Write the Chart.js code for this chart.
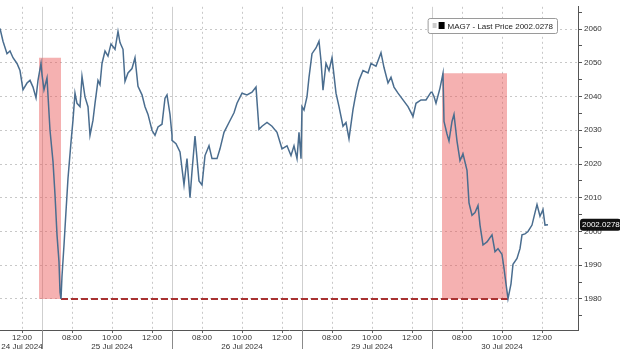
<!DOCTYPE html>
<html lang="en">
<head>
<meta charset="UTF-8">
<title>MAG7 - Last Price</title>
<script src="https://cdn.jsdelivr.net/npm/chart.js"></script>
<style>
    html, body { margin: 0; padding: 0; background: #fff; }
</style>
</head>
<body>
<canvas id="mag7" width="620" height="349"></canvas>
<script>
// trading sessions shown (06:30 - 13:00 each day)
var dayLabels = ['24 Jul 2024', '25 Jul 2024', '26 Jul 2024', '29 Jul 2024', '30 Jul 2024'];

var jul24Times  = ['10:54','11:03','11:15','11:24','11:33','11:45','11:54','12:03','12:15','12:24','12:33','12:42','12:48','12:57'];
var jul24Prices = [2060.2, 2056.4, 2052.7, 2053.5, 2051.5, 2049.8, 2047.7, 2042.0, 2044.0, 2044.8, 2042.8, 2039.6, 2044.8, 2049.8];

var jul25Times  = ['06:30','06:36','06:45','06:54','07:03','07:09','07:15','07:21','07:24','07:27','07:30','07:36','07:42','07:48','07:57','08:03','08:09','08:15','08:24','08:30','08:39','08:48','08:54','09:03','09:09','09:18','09:24','09:30','09:39','09:48','09:57','10:09','10:18','10:24','10:33','10:39','10:48','11:00','11:09','11:18','11:30','11:39','11:48','12:00','12:09','12:18','12:30','12:39','12:45','12:54','13:00'];
var jul25Prices = [2046.5, 2042.0, 2045.5, 2030.0, 2020.7, 2010.9, 1999.0, 1991.0, 1982.0, 1980.0, 1986.8, 1996.0, 2006.0, 2015.8, 2026.5, 2033.0, 2041.0, 2038.0, 2037.0, 2046.0, 2039.9, 2037.0, 2028.5, 2033.0, 2038.0, 2044.8, 2043.5, 2049.8, 2053.5, 2052.0, 2055.6, 2054.0, 2059.3, 2056.0, 2054.0, 2044.5, 2047.0, 2048.3, 2051.5, 2043.0, 2040.5, 2037.0, 2034.7, 2030.0, 2028.5, 2031.0, 2031.8, 2039.5, 2040.5, 2034.7, 2028.5];

var jul26Times  = ['06:30','06:42','06:54','07:06','07:15','07:24','07:30','07:39','07:51','08:00','08:09','08:21','08:30','08:45','08:54','09:06','09:21','09:36','09:45','10:00','10:15','10:30','10:42','10:51','11:00','11:15','11:30','11:45','12:00','12:15','12:27','12:36','12:45','12:51','12:57'];
var jul26Prices = [2027.0, 2026.0, 2023.6, 2013.8, 2021.6, 2010.0, 2017.8, 2028.3, 2015.0, 2013.8, 2022.5, 2025.4, 2021.6, 2021.6, 2024.5, 2029.4, 2032.3, 2035.2, 2038.0, 2041.0, 2040.5, 2041.3, 2042.8, 2030.3, 2031.2, 2032.3, 2031.2, 2029.4, 2024.5, 2025.4, 2022.5, 2025.4, 2021.6, 2029.4, 2021.6];

var jul29Times  = ['06:30','06:36','06:45','06:51','07:00','07:12','07:21','07:27','07:33','07:42','07:51','08:00','08:12','08:21','08:33','08:42','08:51','09:03','09:12','09:21','09:33','09:48','09:57','10:12','10:27','10:36','10:48','10:57','11:06','11:18','11:33','11:48','12:03','12:12','12:27','12:42','12:57'];
var jul29Prices = [2037.0, 2036.0, 2040.0, 2045.7, 2052.7, 2054.4, 2056.4, 2050.6, 2041.9, 2049.8, 2047.7, 2051.5, 2041.0, 2037.0, 2031.2, 2032.3, 2027.5, 2036.1, 2041.0, 2044.8, 2047.7, 2047.0, 2049.8, 2049.0, 2053.0, 2048.6, 2044.0, 2045.7, 2042.8, 2041.0, 2039.0, 2037.0, 2034.1, 2038.0, 2039.0, 2039.0, 2041.3];

var jul30Times  = ['06:30','06:36','06:42','06:54','07:03','07:06','07:15','07:21','07:30','07:36','07:45','07:54','08:03','08:15','08:21','08:30','08:39','08:48','08:54','09:03','09:15','09:30','09:39','09:48','10:00','10:06','10:12','10:18','10:27','10:33','10:45','10:54','11:00','11:09','11:18','11:30','11:39','11:45','11:54','12:03','12:09','12:18'];
var jul30Prices = [2041.3, 2040.0, 2038.0, 2042.5, 2046.9, 2032.6, 2028.9, 2026.8, 2032.6, 2034.7, 2026.8, 2021.0, 2023.0, 2018.1, 2008.5, 2004.8, 2005.6, 2007.7, 2001.9, 1996.0, 1996.9, 1999.0, 1994.0, 1994.9, 1993.2, 1989.1, 1984.5, 1980.1, 1984.5, 1990.3, 1992.0, 1994.9, 1999.0, 1999.3, 2000.0, 2001.9, 2005.6, 2008.0, 2004.5, 2006.5, 2001.9, 2002.03];

var lastPriceText = '2002.0278';

// shaded sell-off windows
var selloffStartDay  = [0, 4];
var selloffStartTime = ['12:51', '07:00'];
var selloffEndDay    = [1, 4];
var selloffEndTime   = ['07:27', '10:15'];
var selloffTop       = [2051.5, 2046.9];

// dashed line joining the two lows
var lowLevel    = 1980;
var lowLineDay  = [1, 4];
var lowLineTime = ['07:27', '10:18'];

// x axis ticks
var tickDay      = [0, 1, 1, 1, 2, 2, 2, 3, 3, 3, 4, 4, 4];
var tickTime     = ['12:00', '08:00', '10:00', '12:00', '08:00', '10:00', '12:00', '08:00', '10:00', '12:00', '08:00', '10:00', '12:00'];
var tickWithDate = [true, false, true, false, false, true, false, false, true, false, false, true, false];

var viewFrom = [0, '10:54'];
var viewTo   = [4, '13:48'];

// minutes of trading time since 24 Jul 06:30
function tx(day, hhmm) {
    var p = hhmm.split(':');
    return day * 390 + (+p[0]) * 60 + (+p[1]) - 390;
}

var dayTimes  = [jul24Times, jul25Times, jul26Times, jul29Times, jul30Times];
var dayPrices = [jul24Prices, jul25Prices, jul26Prices, jul29Prices, jul30Prices];
var priceData = [];
dayTimes.forEach(function (times, d) {
    times.forEach(function (t, i) {
        priceData.push({ x: tx(d, t), y: dayPrices[d][i] });
    });
});

var boxSets = selloffTop.map(function (top, i) {
    return {
        data: [{ x: tx(selloffStartDay[i], selloffStartTime[i]), y: top },
               { x: tx(selloffEndDay[i], selloffEndTime[i]), y: top }],
        borderColor: 'rgba(0,0,0,0)',
        borderWidth: 0,
        backgroundColor: 'rgba(232,82,82,0.45)',
        fill: { value: lowLevel },
        pointRadius: 0
    };
});

var overlay = {
    id: 'overlay',
    beforeDatasetsDraw: function (chart) {
        var ctx = chart.ctx, area = chart.chartArea, xs = chart.scales.x;
        ctx.save();
        ctx.lineWidth = 1;
        for (var d = 1; d < dayLabels.length; d++) {
            var x = Math.round(xs.getPixelForValue(tx(d, '06:30'))) + 0.5;
            ctx.strokeStyle = '#cfcfcf';
            ctx.beginPath(); ctx.moveTo(x, area.top); ctx.lineTo(x, area.bottom); ctx.stroke();
            ctx.strokeStyle = '#8a8a8a';
            ctx.beginPath(); ctx.moveTo(x, area.bottom); ctx.lineTo(x, chart.height); ctx.stroke();
        }
        ctx.restore();
    },
    afterDraw: function (chart) {
        var ctx = chart.ctx, area = chart.chartArea, ys = chart.scales.y;
        ctx.save();
        ctx.font = '8px "Liberation Sans", Arial, sans-serif';
        ctx.textBaseline = 'middle';

        // legend box
        var text = 'MAG7 - Last Price ' + lastPriceText;
        var w = ctx.measureText(text).width;
        var right = area.right - 21, top = 18, h = 15;
        var left = right - w - 24;
        ctx.fillStyle = '#fff';
        ctx.strokeStyle = '#9a9a9a';
        ctx.beginPath(); ctx.roundRect(left + 0.5, top + 0.5, right - left, h, 2); ctx.fill(); ctx.stroke();
        ctx.fillStyle = '#cccccc';
        ctx.fillRect(left + 5, top + 5, 4, 5);
        ctx.fillStyle = '#000';
        ctx.fillRect(left + 11, top + 4, 6, 7);
        ctx.fillStyle = '#222';
        ctx.fillText(text, left + 20, top + h / 2 + 1);

        // last price tag on the axis
        var last = priceData[priceData.length - 1].y;
        var y = ys.getPixelForValue(last);
        ctx.fillStyle = '#111';
        ctx.beginPath(); ctx.roundRect(area.right + 2, y - 6, chart.width - area.right - 1, 12, 3); ctx.fill();
        ctx.fillStyle = '#fff';
        ctx.fillText(lastPriceText, area.right + 4, y + 0.5);
        ctx.restore();
    }
};

Chart.defaults.font.family = '"Liberation Sans", Arial, sans-serif';
Chart.defaults.font.size = 8;
Chart.defaults.color = '#333';

new Chart(document.getElementById('mag7'), {
    type: 'line',
    data: {
        datasets: [{
            label: 'MAG7',
            data: priceData,
            borderColor: '#4a6d8f',
            borderWidth: 1.5,
            pointRadius: 0,
            tension: 0
        }, {
            data: [{ x: tx(lowLineDay[0], lowLineTime[0]), y: lowLevel },
                   { x: tx(lowLineDay[1], lowLineTime[1]), y: lowLevel }],
            borderColor: '#a83232',
            borderWidth: 2,
            borderDash: [7, 3],
            pointRadius: 0
        }].concat(boxSets)
    },
    options: {
        responsive: false,
        animation: false,
        layout: { padding: 0 },
        plugins: { legend: { display: false }, tooltip: { enabled: false } },
        scales: {
            x: {
                type: 'linear',
                min: tx(viewFrom[0], viewFrom[1]),
                max: tx(viewTo[0], viewTo[1]),
                afterBuildTicks: function (axis) {
                    axis.ticks = tickTime.map(function (t, i) { return { value: tx(tickDay[i], t) }; });
                },
                afterFit: function (scale) { scale.height = 19; },
                ticks: {
                    autoSkip: false,
                    maxRotation: 0,
                    minRotation: 0,
                    padding: 1,
                    font: { size: 8, lineHeight: 1.05 },
                    callback: function (value, i) {
                        return tickWithDate[i] ? [tickTime[i], dayLabels[tickDay[i]]] : tickTime[i];
                    }
                },
                grid: { color: '#c8c8c8', tickLength: 3, tickColor: '#666' },
                border: { color: '#555', dash: [2, 3] }
            },
            y: {
                position: 'right',
                min: 1970.8,
                max: 2066.6,
                afterFit: function (scale) { scale.width = 42; },
                ticks: {
                    stepSize: 5,
                    includeBounds: false,
                    autoSkip: false,
                    padding: 2,
                    callback: function (v) { return v % 10 === 0 ? v : ''; }
                },
                grid: {
                    color: function (c) { return c.tick && c.tick.value % 10 === 0 ? '#c8c8c8' : 'rgba(0,0,0,0)'; },
                    tickLength: 4,
                    tickColor: '#555'
                },
                border: { color: '#555', dash: [2, 3] }
            }
        }
    },
    plugins: [overlay]
});
</script>
</body>
</html>
